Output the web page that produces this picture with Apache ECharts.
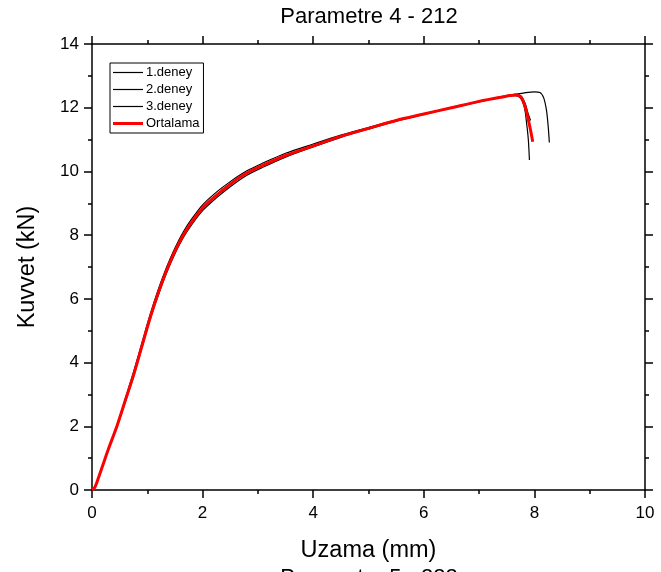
<!DOCTYPE html>
<html><head><meta charset="utf-8">
<script src="https://cdn.jsdelivr.net/npm/echarts@6/dist/echarts.min.js"></script>
<style>html,body{margin:0;padding:0;background:#fff}#c{width:661px;height:572px}</style>
</head><body><div id="c"></div>
<script>
const chartTitle = 'Parametre 4 - 212';
const nextTitle = 'Parametre 5 - 222';
const xName = 'Uzama (mm)';
const yName = 'Kuvvet (kN)';
const seriesNames = ['1.deney', '2.deney', '3.deney', 'Ortalama'];

const x1 = [0,0.05,0.1,0.2,0.3,0.45,0.6,0.75,0.9,1.05,1.2,1.35,1.5,1.65,1.8,2.0,2.25,2.5,2.8,3.1,3.5,4.0,4.5,5.0,5.5,6.0,6.5,7.0,7.5,7.8,8.0,8.1,8.17,8.22,8.25,8.27];
const y1 = [0,0.08,0.3,0.8,1.3,2.0,2.85,3.7,4.6,5.5,6.3,7.0,7.6,8.1,8.5,8.95,9.35,9.68,10.02,10.27,10.57,10.86,11.14,11.38,11.61,11.81,12.01,12.2,12.38,12.46,12.5,12.48,12.3,11.9,11.4,10.91];

const x2 = [0,0.05,0.1,0.2,0.3,0.45,0.6,0.75,0.9,1.05,1.2,1.35,1.5,1.65,1.8,2.0,2.25,2.5,2.8,3.1,3.5,4.0,4.5,5.0,5.5,6.0,6.5,7.0,7.4,7.65,7.75,7.82,7.86,7.89,7.91];
const y2 = [0,0.07,0.28,0.77,1.27,1.97,2.75,3.55,4.45,5.35,6.12,6.82,7.42,7.92,8.32,8.77,9.17,9.52,9.88,10.14,10.45,10.77,11.07,11.33,11.58,11.79,11.99,12.18,12.32,12.38,12.3,12.0,11.5,11.0,10.36];

const x3 = [0,0.05,0.1,0.2,0.3,0.45,0.6,0.75,0.9,1.05,1.2,1.35,1.5,1.65,1.8,2.0,2.25,2.5,2.8,3.1,3.5,4.0,4.5,5.0,5.5,6.0,6.5,7.0,7.4,7.65,7.75,7.83,7.88,7.93];
const y3 = [0,0.08,0.3,0.8,1.3,2.0,2.8,3.6,4.5,5.4,6.2,6.9,7.5,8.0,8.4,8.85,9.25,9.6,9.95,10.2,10.5,10.8,11.1,11.35,11.6,11.8,12.0,12.2,12.33,12.42,12.38,12.15,11.85,11.6];

const xAvg = [0,0.05,0.1,0.2,0.3,0.45,0.6,0.75,0.9,1.05,1.2,1.35,1.5,1.65,1.8,2.0,2.25,2.5,2.8,3.1,3.5,4.0,4.5,5.0,5.5,6.0,6.5,7.0,7.4,7.65,7.75,7.82,7.88,7.93,7.97];
const yAvg = [0,0.08,0.3,0.8,1.3,2.0,2.8,3.6,4.5,5.4,6.2,6.9,7.5,8.0,8.4,8.85,9.25,9.6,9.95,10.2,10.5,10.8,11.1,11.35,11.6,11.8,12.0,12.2,12.33,12.4,12.35,12.1,11.7,11.3,10.93];

const xTicks = [0,2,4,6,8,10];
const yTicks = [0,2,4,6,8,10,12,14];

const zip = (a,b) => a.map((v,i)=>[v,b[i]]);
const font = 'Liberation Sans, Arial, sans-serif';
const thinIcon = 'path://M0,0 M0,5.4 L30,5.4 L30,6.6 L0,6.6 Z M30,12';
const thickIcon = 'path://M0,0 M0,4.5 L30,4.5 L30,7.5 L0,7.5 Z M30,12';

const axisCommon = {
  axisLine:{show:true,onZero:false,lineStyle:{color:'#000',width:1.5}},
  axisTick:{show:true,inside:false,length:8,lineStyle:{color:'#000',width:1.5}},
  minorTick:{show:true,splitNumber:2,length:4,lineStyle:{color:'#000',width:1.5}},
  splitLine:{show:false}
};

const chart = echarts.init(document.getElementById('c'), null, {renderer:'canvas'});
chart.setOption({
  animation:false,
  backgroundColor:'#fff',
  title:[
    {text:chartTitle,left:364,top:1,textAlign:'center',textStyle:{fontFamily:font,fontSize:22,fontWeight:'normal',color:'#000'}},
    {text:nextTitle,left:364,top:562,textAlign:'center',textStyle:{fontFamily:font,fontSize:22,fontWeight:'normal',color:'#000'}}
  ],
  grid:{left:92,right:16,top:44,bottom:82,containLabel:false},
  legend:{
    show:true, orient:'vertical', left:110, top:63,
    data:[
      {name:seriesNames[0],icon:thinIcon},
      {name:seriesNames[1],icon:thinIcon},
      {name:seriesNames[2],icon:thinIcon},
      {name:seriesNames[3],icon:thickIcon}
    ],
    itemWidth:30, itemHeight:12, itemGap:4,
    borderColor:'#000', borderWidth:1, padding:[3,4,3,3], borderRadius:0,
    textStyle:{fontFamily:font,fontSize:13,color:'#000',padding:[0,0,0,-2]}
  },
  xAxis:[
    Object.assign({type:'value',position:'bottom',min:xTicks[0],max:xTicks[xTicks.length-1],interval:2,
      name:xName,nameLocation:'middle',nameGap:49,nameTextStyle:{fontFamily:font,fontSize:23.5,color:'#000'},
      axisLabel:{fontFamily:font,fontSize:17,color:'#000',margin:15}},axisCommon),
    Object.assign({type:'value',position:'top',min:xTicks[0],max:xTicks[xTicks.length-1],interval:2,
      axisLabel:{show:false}},axisCommon)
  ],
  yAxis:[
    Object.assign({type:'value',position:'left',min:yTicks[0],max:yTicks[yTicks.length-1],interval:2,
      name:yName,nameLocation:'middle',nameGap:52,nameRotate:90,nameTextStyle:{fontFamily:font,fontSize:23.5,color:'#000'},
      axisLabel:{fontFamily:font,fontSize:17,color:'#000',margin:13}},axisCommon),
    Object.assign({type:'value',position:'right',min:yTicks[0],max:yTicks[yTicks.length-1],interval:2,
      axisLabel:{show:false}},axisCommon)
  ],
  series:[
    {name:seriesNames[0],type:'line',data:zip(x1,y1),smooth:0.3,symbol:'none',lineStyle:{color:'#000',width:1.2},itemStyle:{color:'#000'}},
    {name:seriesNames[1],type:'line',data:zip(x2,y2),smooth:0.3,symbol:'none',lineStyle:{color:'#000',width:1.2},itemStyle:{color:'#000'}},
    {name:seriesNames[2],type:'line',data:zip(x3,y3),smooth:0.3,symbol:'none',lineStyle:{color:'#000',width:1.2},itemStyle:{color:'#000'}},
    {name:seriesNames[3],type:'line',data:zip(xAvg,yAvg),smooth:0.3,symbol:'none',lineStyle:{color:'#ff0000',width:3},itemStyle:{color:'#ff0000'}}
  ]
});
</script></body></html>
